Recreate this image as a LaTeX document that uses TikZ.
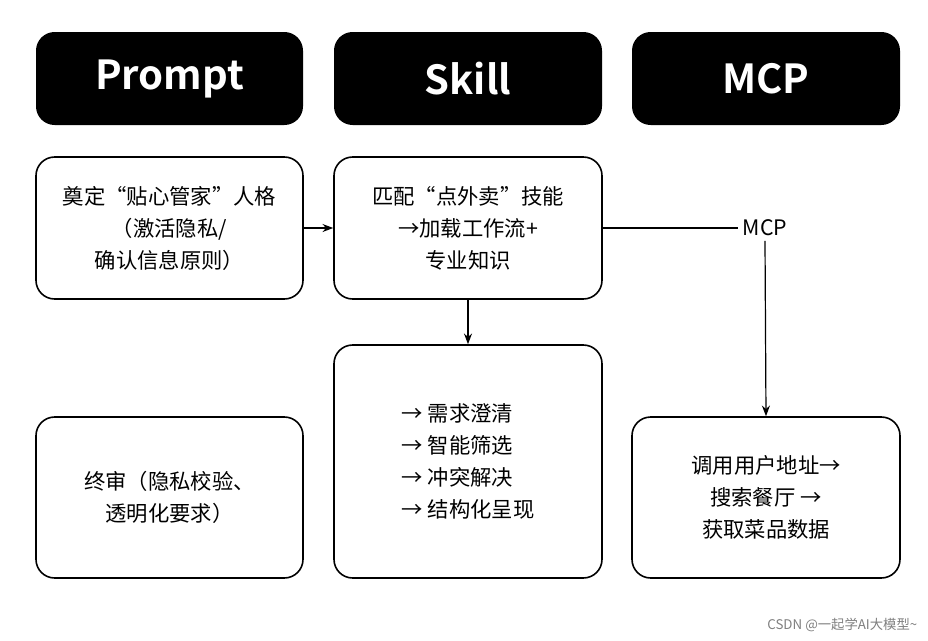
\documentclass[tikz,border=0pt]{standalone}
\usepackage{fontspec}
\setmainfont{Noto Sans CJK SC}
\newfontfamily\hdr{Noto Sans CJK SC Bold}
\usetikzlibrary{arrows.meta}
\begin{document}
\begin{tikzpicture}[x=0.75pt,y=-0.75pt,
 hbox/.style={fill=black,rounded corners=14pt,text=white,font=\hdr\fontsize{30}{36}\selectfont},
 cbox/.style={draw=black,line width=1.2pt,rounded corners=14pt,align=center,font=\fontsize{16}{24}\selectfont},
 arr/.style={-{Stealth[length=8pt,width=6pt]},line width=0.9pt}]
\useasboundingbox (0,0) rectangle (928,640);
\fill[white] (0,0) rectangle (928,640);
\node[hbox,minimum width=200.25pt,minimum height=69.75pt] (hp) at (169.5,78.5) {Prompt};
\node[hbox,minimum width=201pt,minimum height=69.75pt] (hs) at (468,78.5) {Skill};
\node[hbox,minimum width=201pt,minimum height=69.75pt] (hm) at (766,78.5) {MCP};
\node[cbox,minimum width=200.25pt,minimum height=106.5pt] (p1) at (169.5,228) {奠定“贴心管家”人格\\（激活隐私/\\确认信息原则）};
\node[cbox,minimum width=201pt,minimum height=106.5pt] (s1) at (468,228) {匹配“点外卖”技能\\→加载工作流+\\专业知识};
\node[cbox,minimum width=201pt,minimum height=174.75pt,align=left] (s2) at (468,461.5) {→ 需求澄清\\→ 智能筛选\\→ 冲突解决\\→ 结构化呈现};
\node[cbox,minimum width=200.25pt,minimum height=120.75pt] (p2) at (169.5,497.5) {终审（隐私校验、\\透明化要求）};
\node[cbox,minimum width=201pt,minimum height=120.75pt] (m2) at (766,497.5) {调用用户地址→\\搜索餐厅 →\\获取菜品数据};
\node[font=\fontsize{16}{20}\selectfont] (mcp) at (765,228) {MCP};
\draw[arr] (p1.east) -- (s1.west);
\draw[line width=0.9pt] (s1.east) -- (mcp.west);
\draw[arr] (mcp.south) -- (m2.north);
\draw[arr] (s1.south) -- (s2.north);
\node[text=gray,font=\fontsize{10}{12}\selectfont,anchor=east] (wm) at (922,625) {CSDN @一起学AI大模型\textasciitilde};
\end{tikzpicture}
\end{document}
